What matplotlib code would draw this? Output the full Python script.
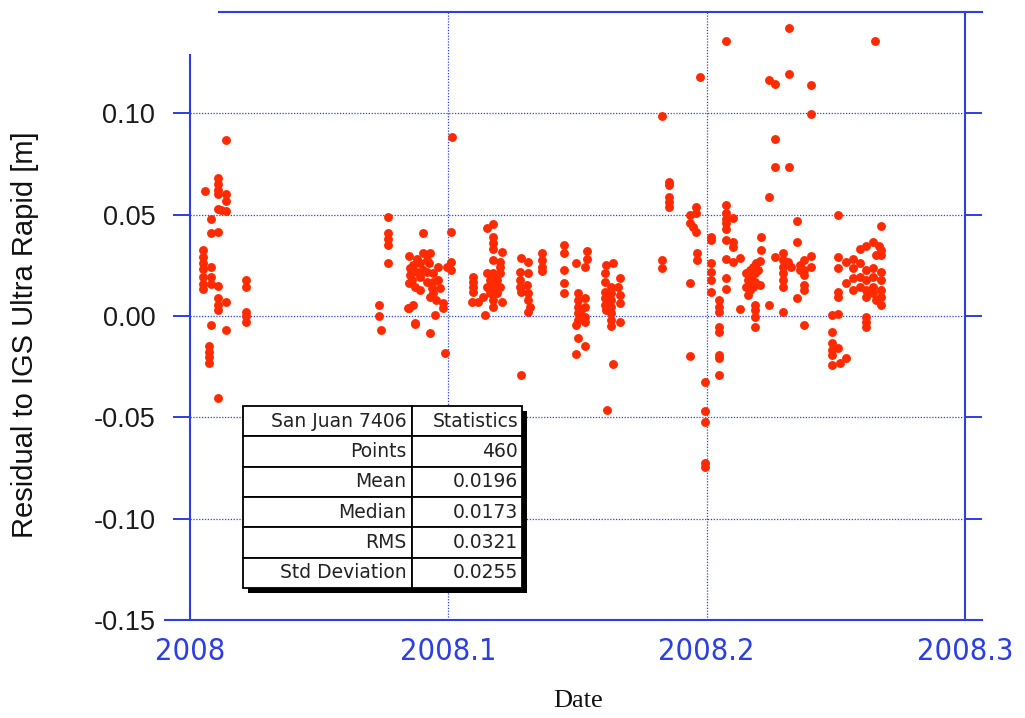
import matplotlib
matplotlib.use("Agg")
import matplotlib.pyplot as plt
from matplotlib.patches import Rectangle
import numpy as np

# residual points, grouped by time window (decimal year, metres)
date_a = [2008.0139, 2008.0108, 2008.0108, 2008.0108, 2008.0058, 2008.0108, 2008.0139, 2008.0139,
          2008.0108, 2008.0139, 2008.0120, 2008.0081, 2008.0081, 2008.0107, 2008.0051, 2008.0051,
          2008.0051, 2008.0051, 2008.0051, 2008.0051, 2008.0051, 2008.0081, 2008.0081, 2008.0081,
          2008.0107, 2008.0107, 2008.0107, 2008.0107, 2008.0139, 2008.0217, 2008.0217, 2008.0217,
          2008.0217, 2008.0217, 2008.0081, 2008.0139, 2008.0073, 2008.0073, 2008.0073, 2008.0073,
          2008.0108]
res_a = [0.0867, 0.068, 0.065, 0.062, 0.0617, 0.0604, 0.0604, 0.0568,
         0.053, 0.052, 0.0525, 0.0478, 0.041, 0.0414, 0.0325, 0.029,
         0.026, 0.023, 0.019, 0.016, 0.0135, 0.024, 0.019, 0.016,
         0.015, 0.0087, 0.0054, 0.003, 0.007, 0.0177, 0.0141, 0.002,
         0.0, -0.003, -0.0044, -0.0069, -0.015, -0.0176, -0.020, -0.0233,
         -0.0405]

date_b = [2008.0733, 2008.0733, 2008.0738, 2008.0767, 2008.0767, 2008.0767, 2008.0767, 2008.0767,
          2008.0903, 2008.0848, 2008.0903, 2008.0928, 2008.0916, 2008.0890, 2008.0864, 2008.0851,
          2008.0851, 2008.0858, 2008.0870, 2008.0890, 2008.0916, 2008.0941, 2008.0961, 2008.0967,
          2008.0941, 2008.0954, 2008.0980, 2008.0980, 2008.0948, 2008.0864, 2008.0844, 2008.0870,
          2008.0928, 2008.0986, 2008.1012, 2008.1012, 2008.1012, 2008.0993, 2008.0941, 2008.0935,
          2008.0916, 2008.0903, 2008.0877, 2008.0928, 2008.0890, 2008.1014, 2008.0848, 2008.0848,
          2008.0870, 2008.0925, 2008.0960, 2008.0880]
res_b = [0.0054, 0.0, -0.0069, 0.049, 0.041, 0.038, 0.035, 0.026,
         0.041, 0.0296, 0.0309, 0.0309, 0.0276, 0.026, 0.0251, 0.0235,
         0.0202, 0.0177, 0.0144, 0.0194, 0.0218, 0.021, 0.0177, 0.0136,
         0.0112, 0.0079, 0.0063, 0.0038, 0.0005, 0.0054, 0.0038, -0.0036,
         -0.0085, -0.0184, 0.0415, 0.0267, 0.0227, 0.0243, 0.0169, 0.0136,
         0.0169, 0.0227, 0.0218, 0.0095, 0.0128, 0.0883, 0.0161, 0.0038,
         -0.0039, 0.0260, 0.0240, 0.0280]

date_c = [2008.1096, 2008.1096, 2008.1096, 2008.1096, 2008.1090, 2008.1115, 2008.1141, 2008.1148,
          2008.1173, 2008.1173, 2008.1173, 2008.1173, 2008.1206, 2008.1173, 2008.1199, 2008.1199,
          2008.1148, 2008.1173, 2008.1199, 2008.1161, 2008.1187, 2008.1148, 2008.1173, 2008.1199,
          2008.1161, 2008.1187, 2008.1135, 2008.1173, 2008.1206, 2008.1173,
          2008.1283, 2008.1309, 2008.1277, 2008.1309, 2008.1277, 2008.1277, 2008.1283, 2008.1303,
          2008.1309, 2008.1309, 2008.1315, 2008.1309, 2008.1283,
          2008.1363, 2008.1363, 2008.1363, 2008.1363]
res_c = [0.0194, 0.0169, 0.0144, 0.012, 0.007, 0.007, 0.0005, 0.0432,
         0.0453, 0.039, 0.0358, 0.0333, 0.0317, 0.0276, 0.0267, 0.0243,
         0.021, 0.021, 0.021, 0.0177, 0.0177, 0.0144, 0.0144, 0.0144,
         0.0112, 0.0112, 0.0095, 0.0079, 0.007, 0.0046,
         0.0284, 0.0267, 0.0218, 0.021, 0.0177, 0.0144, 0.012, 0.0153,
         0.0112, 0.0079, 0.0046, 0.0021, -0.0291,
         0.0309, 0.0276, 0.0243, 0.0223]

date_d = [2008.1448, 2008.1448, 2008.1448, 2008.1448, 2008.1448,
          2008.1496, 2008.1535, 2008.1535, 2008.1528, 2008.1502, 2008.1502, 2008.1502, 2008.1502,
          2008.1502, 2008.1496, 2008.1528, 2008.1528, 2008.1528, 2008.1528, 2008.1515, 2008.1502,
          2008.1528, 2008.1496,
          2008.1612, 2008.1638, 2008.1605, 2008.1605, 2008.1663, 2008.1605, 2008.1605, 2008.1605,
          2008.1612, 2008.1631, 2008.1631, 2008.1631, 2008.1631, 2008.1631, 2008.1631, 2008.1631,
          2008.1657, 2008.1663, 2008.1663, 2008.1663, 2008.1638, 2008.1614]
res_d = [0.035, 0.0309, 0.0227, 0.0161, 0.0112,
         0.026, 0.0322, 0.0279, 0.0243, 0.0112, 0.0079, 0.0046, 0.0013,
         -0.002, -0.0044, 0.0087, 0.0046, -0.0003, -0.0028, 0.003, -0.011,
         -0.0148, -0.0189,
         0.0251, 0.026, 0.021, 0.0169, 0.0186, 0.012, 0.0087, 0.0054,
         0.003, 0.0144, 0.0112, 0.0079, 0.0046, 0.0013, -0.002, -0.0049,
         0.0144, 0.0103, 0.0063, -0.0028, -0.0236, -0.0463]

date_e = [2008.1827, 2008.1853, 2008.1853, 2008.1853, 2008.1853, 2008.1853, 2008.1827, 2008.1827,
          2008.1960, 2008.1960, 2008.1934, 2008.1934, 2008.1947, 2008.1960, 2008.1962, 2008.1962,
          2008.1937, 2008.1937, 2008.1973, 2008.2073, 2008.1995, 2008.1995, 2008.1995, 2008.1995,
          2008.1995,
          2008.2018, 2008.2018, 2008.2018, 2008.2018, 2008.2018, 2008.2018, 2008.2048, 2008.2048,
          2008.2048, 2008.2048, 2008.2048, 2008.2048, 2008.2048, 2008.2048, 2008.2073, 2008.2073,
          2008.2073, 2008.2073, 2008.2073, 2008.2102, 2008.2073, 2008.2073, 2008.2102, 2008.2102,
          2008.2102, 2008.2128, 2008.2073, 2008.2073, 2008.2128]
res_e = [0.0985, 0.0662, 0.0645, 0.0588, 0.0563, 0.0538, 0.0276, 0.0235,
         0.0538, 0.0506, 0.0498, 0.0457, 0.044, 0.0415, 0.0309, 0.0276,
         0.0164, -0.0197, 0.1179, 0.1356, -0.0327, -0.0468, -0.0524, -0.0724,
         -0.0744,
         0.039, 0.0374, 0.026, 0.0218, 0.0177, 0.012, 0.0079, 0.0046,
         0.0021, -0.0053, -0.0077, -0.0192, -0.0208, -0.029, 0.0547, 0.0506,
         0.0481, 0.0457, 0.0427, 0.0486, 0.0374, 0.0279, 0.0366, 0.0341,
         0.0267, 0.0284, 0.0186, 0.0132, 0.0033]

date_f = [2008.2209, 2008.2209, 2008.2166, 2008.2154, 2008.2166, 2008.2179, 2008.2192, 2008.2205,
          2008.2160, 2008.2173, 2008.2186, 2008.2199, 2008.2154, 2008.2166, 2008.2160, 2008.2186,
          2008.2205, 2008.2179, 2008.2186, 2008.2186, 2008.2186, 2008.2186, 2008.2240, 2008.2240,
          2008.2263, 2008.2295, 2008.2295, 2008.2295, 2008.2295, 2008.2295, 2008.2295, 2008.2314,
          2008.2328, 2008.2350, 2008.2350, 2008.2360, 2008.2360, 2008.2375, 2008.2375, 2008.2375,
          2008.2405, 2008.2405, 2008.2375, 2008.2375, 2008.2350, 2008.2295, 2008.2375,
          2008.2318, 2008.2318, 2008.2240, 2008.2263, 2008.2405, 2008.2405, 2008.2263, 2008.2263,
          2008.2318]
res_f = [0.039, 0.0325, 0.0174, 0.021, 0.0227, 0.0243, 0.026, 0.0272,
         0.0177, 0.0194, 0.021, 0.0227, 0.0144, 0.0128, 0.0103, 0.0169,
         0.0153, 0.0144, 0.0054, 0.003, -0.0003, -0.0053, 0.0054, 0.0585,
         0.0289, 0.0312, 0.0276, 0.0243, 0.021, 0.0177, 0.0144, 0.0267,
         0.0243, 0.0468, 0.0366, 0.0251, 0.0227, 0.0276, 0.0227, 0.0202,
         0.0296, 0.0243, 0.0153, 0.0128, 0.0087, 0.0021, -0.0044,
         0.142, 0.1194, 0.1163, 0.1146, 0.1138, 0.0999, 0.0875, 0.0733,
         0.0733]

date_g = [2008.2508, 2008.2508, 2008.2508, 2008.2508, 2008.2508, 2008.2485, 2008.2485, 2008.2485,
          2008.2485, 2008.2485, 2008.2508, 2008.2485, 2008.2515, 2008.2540, 2008.2508,
          2008.2540, 2008.2566, 2008.2592, 2008.2618, 2008.2643, 2008.2669, 2008.2676, 2008.2656,
          2008.2676, 2008.2566, 2008.2592, 2008.2618, 2008.2643, 2008.2676, 2008.2566, 2008.2592,
          2008.2618, 2008.2643, 2008.2676, 2008.2540, 2008.2566, 2008.2592, 2008.2618, 2008.2618,
          2008.2643, 2008.2676, 2008.2676, 2008.2676, 2008.2656, 2008.2643, 2008.2618, 2008.2618,
          2008.2618, 2008.2650, 2008.2673]
res_g = [0.0292, 0.0235, 0.012, 0.0095, 0.001, 0.0005, -0.0077, -0.0135,
         -0.0167, -0.0192, -0.0159, -0.0241, -0.0233, -0.0208, 0.0499,
         0.0267, 0.0279, 0.0333, 0.0345, 0.0366, 0.0345, 0.0325, 0.03,
         0.03, 0.0235, 0.026, 0.0227, 0.0235, 0.0218, 0.0186, 0.0194,
         0.0177, 0.0194, 0.0177, 0.0161, 0.0128, 0.0144, 0.0128, 0.0095,
         0.0112, 0.0128, 0.0095, 0.0054, 0.0079, 0.0144, -0.0003, -0.0028,
         -0.0053, 0.1356, 0.0443]

stat_rows = ["San Juan 7406", "Points", "Mean", "Median", "RMS", "Std Deviation"]
stat_vals = ["Statistics", "460", "0.0196", "0.0173", "0.0321", "0.0255"]

x_ticks = [2008.0, 2008.1, 2008.2, 2008.3]
x_ticklabels = ["2008", "2008.1", "2008.2", "2008.3"]
y_ticks = [-0.15, -0.10, -0.05, 0.0, 0.05, 0.10]
y_ticklabels = ["-0.15", "-0.10", "-0.05", "0.00", "0.05", "0.10"]

blue = "#2b3fe3"
red = "#ff2a00"

dates = np.concatenate([date_a, date_b, date_c, date_d, date_e, date_f, date_g])
res = np.concatenate([res_a, res_b, res_c, res_d, res_e, res_f, res_g])

fig = plt.figure(figsize=(10.25, 7.18), dpi=100)
ax = fig.add_axes([190 / 1025, 98 / 718, 775 / 1025, 608 / 718])

ax.plot(dates, res, "o", color=red, ms=6.4, mec="none", zorder=3)

ax.set_xlim(2008.0, 2008.3)
ax.set_ylim(-0.15, 0.15)
ax.set_xticks(x_ticks)
ax.set_xticklabels(x_ticklabels, color=blue, fontsize=22, fontstretch="condensed",
                   family=["DejaVu Sans"])
ax.set_yticks(y_ticks)
ax.set_yticklabels(y_ticklabels, color="#1a1a1a", fontsize=19.5,
                   family=["Liberation Sans", "DejaVu Sans"])
ax.tick_params(axis="x", length=0, pad=12)
ax.tick_params(axis="y", direction="out", length=12, width=1.4, color=blue,
               right=True, pad=13)

gridstyle = dict(color=blue, linestyle=(0, (1, 1.3)), linewidth=0.9, zorder=1)
ax.grid(True, axis="y", **gridstyle)
for xv in x_ticks[1:3]:
    ax.axvline(xv, **gridstyle)
ax.set_axisbelow(True)

for s in ax.spines.values():
    s.set_visible(False)

# frame drawn by hand: the original has uneven spine lengths
frame = dict(color=blue, lw=1.5, transform=ax.transAxes, clip_on=False, zorder=4)
ax.plot([-0.032, 1.022], [0, 0], **frame)
ax.plot([0.037, 1.022], [1, 1], **frame)
ax.plot([0, 0], [0, 0.929], **frame)
ax.plot([1, 1], [0, 1], **frame)

# statistics table with drop shadow
tb_x, tb_y, tb_w, tb_h = 0.0684, 0.0526, 0.36, 0.2993
ax.add_patch(Rectangle((tb_x + 0.0065, tb_y - 0.0085), tb_w, tb_h, transform=ax.transAxes,
                       facecolor="black", edgecolor="none", zorder=5, clip_on=False))
tbl = ax.table(cellText=[[a, b] for a, b in zip(stat_rows, stat_vals)],
               cellLoc="right", colWidths=[0.606, 0.394],
               bbox=[tb_x, tb_y, tb_w, tb_h], zorder=6)
tbl.auto_set_font_size(False)
tbl.set_fontsize(13.5)
for cell in tbl.get_celld().values():
    cell.set_edgecolor("black")
    cell.set_linewidth(1.3)
    cell.set_facecolor("white")
    cell.PAD = 0.035
    cell.get_text().set_color("#222222")
    cell.get_text().set_fontfamily(["DejaVu Sans"])

fig.text(25 / 1025, 1 - 335 / 718, "Residual to IGS Ultra Rapid [m]", rotation=90,
         ha="center", va="center", fontsize=21, color="#111111",
         family=["Liberation Sans", "DejaVu Sans"])
fig.text(578 / 1025, 1 - 690 / 718, "Date", ha="center", va="top", fontsize=19,
         color="#111111", family=["Liberation Serif", "DejaVu Serif"])

fig.savefig("out.png", dpi=100)
